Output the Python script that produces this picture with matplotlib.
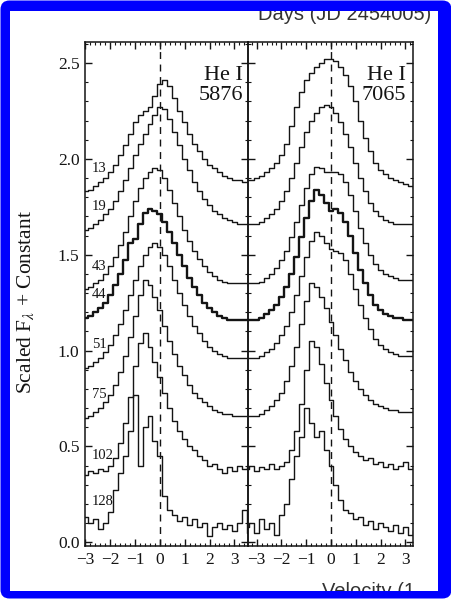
import numpy as np
import matplotlib.pyplot as plt
from matplotlib.patches import FancyBboxPatch, Rectangle
from matplotlib.ticker import MultipleLocator

plt.rcParams['font.family'] = ['Liberation Serif', 'DejaVu Serif']
plt.rcParams['mathtext.fontset'] = 'stix'

# velocity grid (1000 km/s)
vel = [-3.4, -3.2, -3.0, -2.8, -2.6, -2.4, -2.2, -2.0, -1.8, -1.6, -1.4, -1.2,
       -1.0, -0.8, -0.6, -0.4, -0.2, 0.0, 0.2, 0.4, 0.6, 0.8, 1.0, 1.2,
       1.4, 1.6, 1.8, 2.0, 2.2, 2.4, 2.6, 2.8, 3.0, 3.2, 3.4, 3.6]

days = ['13', '19', '43', '44', '51', '75', '102', '128']

# He I 5876
he5876 = [
    [1.82,1.82,1.83,1.84,1.86,1.88,1.90,1.93,1.97,2.02,2.07,2.13,2.19,2.23,2.25,2.27,2.33,2.39,
     2.41,2.38,2.32,2.25,2.19,2.13,2.08,2.04,2.00,1.97,1.95,1.93,1.91,1.90,1.89,1.89,1.88,1.88],
    [1.62,1.62,1.63,1.64,1.66,1.68,1.71,1.74,1.78,1.83,1.89,1.95,2.02,2.08,2.13,2.18,2.23,2.27,
     2.26,2.21,2.14,2.07,2.00,1.94,1.88,1.83,1.79,1.76,1.73,1.71,1.69,1.68,1.67,1.66,1.66,1.66],
    [1.31,1.31,1.32,1.33,1.35,1.37,1.40,1.44,1.49,1.55,1.62,1.70,1.78,1.85,1.90,1.93,1.95,1.94,
     1.90,1.84,1.77,1.70,1.63,1.57,1.52,1.48,1.44,1.41,1.39,1.37,1.36,1.35,1.35,1.35,1.35,1.35],
    [1.16,1.16,1.17,1.18,1.20,1.22,1.25,1.29,1.34,1.40,1.47,1.56,1.58,1.66,1.72,1.74,1.73,1.71,
     1.67,1.62,1.56,1.50,1.44,1.38,1.33,1.29,1.25,1.22,1.20,1.18,1.17,1.16,1.16,1.16,1.16,1.16],
    [0.90,0.90,0.91,0.92,0.94,0.96,0.99,1.03,1.08,1.14,1.21,1.29,1.37,1.44,1.50,1.54,1.56,1.54,
     1.50,1.44,1.37,1.30,1.24,1.18,1.13,1.09,1.05,1.02,1.00,0.98,0.97,0.96,0.96,0.96,0.96,0.96],
    [0.64,0.64,0.65,0.66,0.68,0.70,0.73,0.77,0.82,0.89,0.97,1.07,1.18,1.29,1.37,1.34,1.28,1.21,
     1.13,1.05,0.98,0.92,0.87,0.82,0.78,0.75,0.73,0.71,0.69,0.68,0.67,0.67,0.66,0.66,0.66,0.66],
    [0.36,0.36,0.35,0.37,0.36,0.38,0.37,0.40,0.44,0.52,0.62,0.76,0.92,1.04,1.09,1.02,0.94,0.86,
     0.78,0.70,0.63,0.58,0.54,0.50,0.48,0.45,0.43,0.40,0.41,0.38,0.36,0.39,0.37,0.40,0.38,0.39],
    [0.12,0.12,0.13,0.10,0.12,0.07,0.10,0.16,0.27,0.36,0.45,0.58,0.77,0.40,0.60,0.66,0.53,0.45,
     0.24,0.17,0.14,0.11,0.13,0.09,0.12,0.08,0.10,0.03,0.08,0.10,0.07,0.09,0.06,0.10,0.17,0.05],
]

# He I 7065
he7065 = [
    [1.89,1.89,1.90,1.91,1.93,1.95,1.98,2.02,2.08,2.17,2.27,2.35,2.41,2.45,2.48,2.50,2.52,2.52,
     2.51,2.48,2.44,2.38,2.30,2.20,2.11,2.04,1.98,1.94,1.92,1.90,1.89,1.88,1.87,1.86,1.85,1.85],
    [1.66,1.66,1.66,1.67,1.69,1.71,1.74,1.78,1.83,1.90,1.98,2.06,2.14,2.20,2.24,2.27,2.28,2.27,
     2.24,2.19,2.13,2.06,1.98,1.90,1.83,1.77,1.73,1.70,1.68,1.67,1.66,1.66,1.66,1.66,1.66,1.66],
    [1.35,1.35,1.35,1.36,1.38,1.40,1.43,1.47,1.52,1.59,1.67,1.76,1.85,1.92,1.96,1.95,1.93,1.93,
     1.93,1.92,1.88,1.81,1.73,1.64,1.56,1.50,1.45,1.42,1.40,1.39,1.38,1.37,1.37,1.37,1.37,1.37],
    [1.16,1.16,1.16,1.17,1.19,1.21,1.24,1.28,1.33,1.40,1.49,1.59,1.69,1.78,1.84,1.81,1.77,1.73,
     1.74,1.72,1.67,1.60,1.51,1.42,1.35,1.29,1.24,1.21,1.19,1.18,1.17,1.17,1.16,1.16,1.16,1.16],
    [0.96,0.96,0.96,0.97,0.99,1.01,1.04,1.08,1.13,1.20,1.29,1.39,1.49,1.57,1.62,1.60,1.56,1.53,
     1.52,1.51,1.47,1.40,1.32,1.24,1.17,1.11,1.06,1.03,1.01,0.99,0.98,0.97,0.97,0.97,0.97,0.97],
    [0.66,0.66,0.66,0.67,0.69,0.71,0.74,0.78,0.84,0.92,1.02,1.14,1.26,1.35,1.33,1.28,1.22,1.15,
     1.08,1.01,0.95,0.89,0.84,0.80,0.77,0.74,0.72,0.71,0.70,0.69,0.69,0.68,0.68,0.68,0.68,0.68],
    [0.38,0.40,0.37,0.39,0.38,0.41,0.38,0.40,0.42,0.48,0.58,0.72,0.90,1.05,1.02,0.93,0.83,0.74,
     0.66,0.59,0.54,0.50,0.47,0.45,0.43,0.44,0.41,0.42,0.39,0.41,0.38,0.40,0.42,0.38,0.40,0.39],
    [0.08,0.10,0.05,0.12,0.07,0.10,0.04,0.14,0.20,0.33,0.45,0.55,0.70,0.62,0.55,0.58,0.48,0.40,
     0.30,0.22,0.17,0.15,0.12,0.13,0.09,0.11,0.07,0.10,0.08,0.06,0.09,0.05,0.08,0.04,0.06,0.05],
]

W, H = 452, 599
fig = plt.figure(figsize=(W / 100, H / 100), dpi=100)

# blue frame around the scanned figure
bg = fig.add_axes([0, 0, 1, 1], zorder=0)
bg.set_xlim(0, W)
bg.set_ylim(H, 0)
bg.axis('off')
bg.add_patch(FancyBboxPatch((0.5, 0.5), W - 1, H - 1,
                            boxstyle='round,pad=0,rounding_size=9',
                            fc='#0000fe', ec='none'))
inner = Rectangle((10, 11), 428, 580, fc='white', ec='none')
bg.add_patch(inner)
cut = Rectangle((10, 11), 407, 580, fc='none', ec='none')
bg.add_patch(cut)

t = bg.text(258, 20, 'Days (JD 2454005)', family='Liberation Sans',
            fontsize=14.5, color='#333333', ha='left', va='baseline')
t.set_clip_on(True)
t.set_clip_path(inner)
t = bg.text(322, 582, 'Velocity (1', family='Liberation Sans',
            fontsize=14.5, color='#333333', ha='left', va='top')
t.set_clip_on(True)
t.set_clip_path(cut)

axL = fig.add_axes([85 / W, 53 / H, 163 / W, 504 / H], zorder=2)
axR = fig.add_axes([248 / W, 53 / H, 165 / W, 504 / H], zorder=2)
axL.set_xlim(-3.02, 3.55)
axR.set_xlim(-3.35, 3.31)

for ax, spectra in ((axL, he5876), (axR, he7065)):
    ax.patch.set_alpha(0)
    for d, flux in zip(days, spectra):
        lw = 1.7 if d == '44' else 1.0
        ax.plot(vel, flux, drawstyle='steps-mid', color='#141414', lw=lw)
    ax.axvline(0, color='#141414', lw=1.0, ls=(0, (5, 4)))
    ax.set_ylim(-0.02, 2.61)
    ax.xaxis.set_major_locator(MultipleLocator(1))
    ax.xaxis.set_minor_locator(MultipleLocator(0.2))
    ax.yaxis.set_major_locator(MultipleLocator(0.5))
    ax.yaxis.set_minor_locator(MultipleLocator(0.1))
    ax.tick_params(which='both', direction='in', top=True, right=True,
                   labelsize=12.5, colors='#141414')
    ax.tick_params(which='major', length=5, width=1, pad=4)
    ax.tick_params(which='minor', length=2.5, width=0.8)
    for s in ax.spines.values():
        s.set_linewidth(1.1)
        s.set_color('#141414')

axR.tick_params(labelleft=False)
axL.yaxis.set_major_formatter(plt.FormatStrFormatter('%.1f'))

# day labels next to the 5876 profiles
for d, flux in zip(days, he5876):
    axL.text(-2.74, flux[4] + 0.09, d, fontsize=10.5, ha='left', va='center',
             color='#141414')

axL.text(0.97, 0.952, 'He I\n5876', transform=axL.transAxes, ha='right',
         va='top', fontsize=16, linespacing=1.05, color='#141414')
axR.text(0.955, 0.952, 'He I\n7065', transform=axR.transAxes, ha='right',
         va='top', fontsize=16, linespacing=1.05, color='#141414')

axL.set_ylabel('Scaled F$_\\lambda$ + Constant', fontsize=15.5, color='#141414')
axL.yaxis.set_label_coords(-0.30, 0.484)

fig.savefig('out.png', dpi=100)
